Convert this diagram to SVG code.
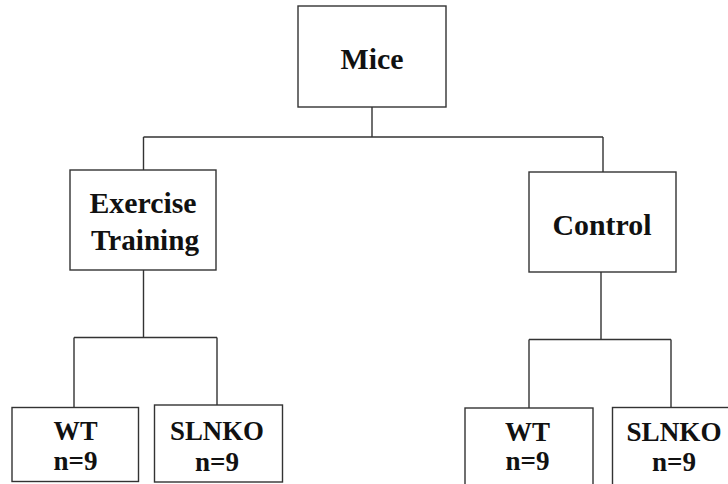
<svg xmlns="http://www.w3.org/2000/svg" width="728" height="484" viewBox="0 0 728 484">
<style>
.box{fill:#fff;stroke:#333;stroke-width:1.4}
.lbl{font-family:"Liberation Serif","Times New Roman",serif;font-weight:bold;font-size:30px;fill:#111;text-anchor:middle}
.sm{font-size:28px}
.con{fill:none;stroke:#333;stroke-width:1.4}
</style>
<rect width="728" height="484" fill="#fff"/>
<g id="connectors">
<path class="con" d="M372 107 V137 M143.5 137 H603 M143.5 137 V170 M603 137 V172"/>
<path class="con" d="M143.5 270 V337.5 M74 337.5 H217 M74 337.5 V407.5 M217 337.5 V405"/>
<path class="con" d="M601 272 V339.5 M529 339.5 H671 M529 339.5 V408 M671 339.5 V407.5"/>
</g>
<g id="mice"><rect class="box" x="298" y="6" width="148" height="101"/><text class="lbl" x="372" y="69" textLength="63" lengthAdjust="spacingAndGlyphs">Mice</text></g>
<g id="exercise"><rect class="box" x="70" y="170" width="146" height="100"/><text class="lbl" x="143" y="213" textLength="107" lengthAdjust="spacingAndGlyphs">Exercise</text><text class="lbl" x="145" y="250" textLength="108" lengthAdjust="spacingAndGlyphs">Training</text></g>
<g id="control"><rect class="box" x="529" y="172" width="147" height="100"/><text class="lbl" x="602" y="235" textLength="99" lengthAdjust="spacingAndGlyphs">Control</text></g>
<g id="wt-ex"><rect class="box" x="12" y="407.5" width="126.5" height="74"/><text class="lbl sm" x="75.5" y="440" textLength="44" lengthAdjust="spacingAndGlyphs">WT</text><text class="lbl sm" x="75.5" y="470" textLength="44" lengthAdjust="spacingAndGlyphs">n=9</text></g>
<g id="slnko-ex"><rect class="box" x="154.5" y="405" width="128" height="77"/><text class="lbl sm" x="217" y="440" textLength="94" lengthAdjust="spacingAndGlyphs">SLNKO</text><text class="lbl sm" x="217" y="470.5" textLength="44" lengthAdjust="spacingAndGlyphs">n=9</text></g>
<g id="wt-ctrl"><rect class="box" x="465" y="408" width="128" height="78"/><text class="lbl sm" x="527.5" y="441" textLength="45" lengthAdjust="spacingAndGlyphs">WT</text><text class="lbl sm" x="527.5" y="470" textLength="44" lengthAdjust="spacingAndGlyphs">n=9</text></g>
<g id="slnko-ctrl"><rect class="box" x="612.5" y="407.5" width="120" height="78"/><text class="lbl sm" x="674" y="441" textLength="95" lengthAdjust="spacingAndGlyphs">SLNKO</text><text class="lbl sm" x="674" y="470.5" textLength="44" lengthAdjust="spacingAndGlyphs">n=9</text></g>
</svg>
